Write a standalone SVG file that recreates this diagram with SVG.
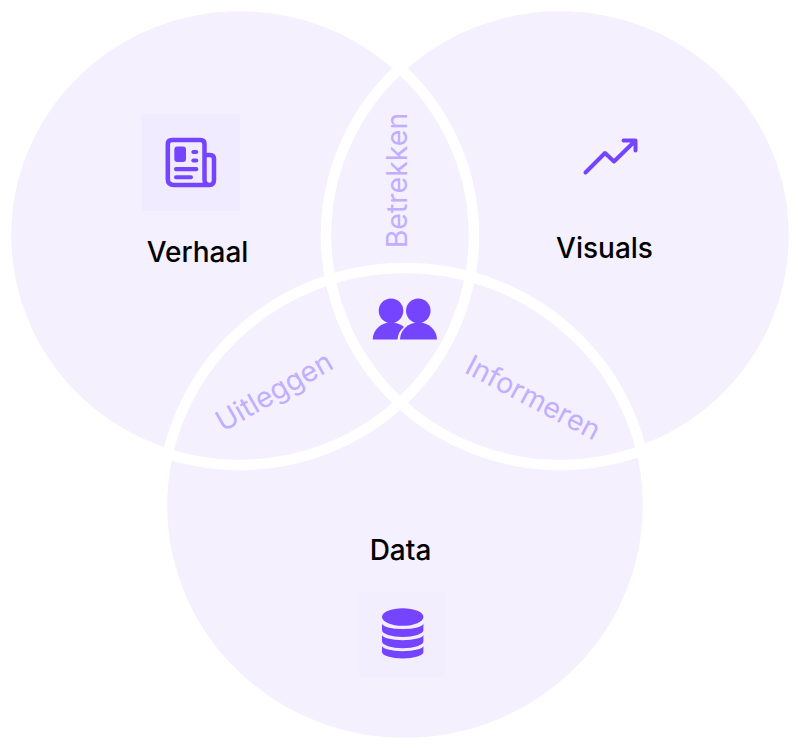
<svg xmlns="http://www.w3.org/2000/svg" width="800" height="749" viewBox="0 0 800 749">
<style>
.c{fill:#f4f0fe}
.r{fill:none;stroke:#fff;stroke-width:10.500}
.t{font-family:"Inter","Liberation Sans",sans-serif;font-size:28px;font-weight:450;fill:#000;text-anchor:middle}
.o{font-family:"Inter","Liberation Sans",sans-serif;font-size:28.500px;fill:#c0aefe;text-anchor:middle}
.i{fill:#7544ff}
.l{fill:none;stroke:#7544ff;stroke-linecap:round;stroke-linejoin:round}
</style>
<rect width="800" height="749" fill="#fff"/>
<g id="fills">
<ellipse class="c" cx="240" cy="235.500" rx="234" ry="229.500"/>
<ellipse class="c" cx="560" cy="235.500" rx="234" ry="229.500"/>
<ellipse class="c" cx="405" cy="505.500" rx="243" ry="237.500"/>
</g>
<g id="connectors">
<ellipse class="r" cx="240" cy="235.500" rx="234" ry="229.500"/>
<ellipse class="r" cx="560" cy="235.500" rx="234" ry="229.500"/>
<ellipse class="r" cx="405" cy="505.500" rx="243" ry="237.500"/>
</g>
<g id="verhaal">
<rect x="142" y="114" width="98" height="97" fill="#f0ebfe"/>
<path class="l" stroke-width="4.500" d="M205 155H210Q214 155 214 159V179.500Q214 185 209.500 185Q204.500 185 204.500 179.500V144Q204.500 140 200.500 140H172Q167.800 140 167.800 144V179Q167.800 185 174 185H209.500"/>
<rect class="i" x="174.300" y="146.500" width="11.700" height="15.500" rx="3"/>
<rect class="i" x="191.300" y="150" width="7" height="4" rx="2"/>
<rect class="i" x="191.300" y="158.500" width="7" height="4" rx="2"/>
<rect class="i" x="174" y="167" width="24.300" height="4.300" rx="2"/>
<rect class="i" x="174" y="175.300" width="19" height="4" rx="2"/>
<text class="t" x="197.500" y="262">Verhaal</text>
</g>
<g id="visuals">
<path class="l" stroke-width="4" d="M585.500 172.500L605 153L614 161.500L635 141M623.500 140.500H635.500V150.500"/>
<text class="t" x="604.500" y="258">Visuals</text>
</g>
<g id="data">
<rect x="359" y="592" width="86" height="85" fill="#f2eefe"/>
<ellipse class="i" cx="402.700" cy="617" rx="20.700" ry="8.700"/>
<path class="i" d="M382 623.500A20.700 5.500 0 0 0 423.400 623.500V630A20.700 7 0 0 1 382 630Z"/>
<path class="i" d="M382 634.700A20.700 5.500 0 0 0 423.400 634.700V641.200A20.700 7 0 0 1 382 641.200Z"/>
<path class="i" d="M382 645.700A20.700 5.500 0 0 0 423.400 645.700V652A20.700 6.500 0 0 1 382 652Z"/>
<text class="t" x="400.500" y="560">Data</text>
</g>
<g id="betrekken">
<text class="o" transform="translate(406.500 180.500) rotate(-90)">Betrekken</text>
</g>
<g id="uitleggen">
<text class="o" transform="translate(279 400) rotate(-30)">Uitleggen</text>
</g>
<g id="informeren">
<text class="o" transform="translate(528.500 406.500) rotate(27.800)">Informeren</text>
</g>
<g id="people">
<circle class="i" cx="391" cy="310.700" r="12.300"/>
<circle class="i" cx="418.300" cy="310.700" r="12.300"/>
<path class="i" d="M372.700 339.500A18.500 17 0 0 1 391 322.500Q399 322.500 404 327Q398 332 397.500 339.500Z"/>
<path class="i" d="M400 339.500A18.500 17 0 0 1 437 339.500Z"/>
</g>
</svg>
